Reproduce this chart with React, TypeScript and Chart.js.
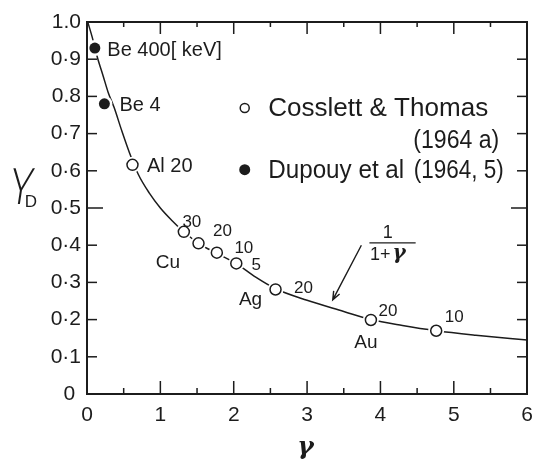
import React, { useEffect, useRef } from "react";
import { Chart, registerables } from "chart.js";

Chart.register(...registerables);

const INK = "#1c1c1c";
const SANS = "'Liberation Sans', Arial, sans-serif";

// Theoretical yield curve 1/(1+γ)
const curveGamma = [0.01, 0.07, 0.14, 0.22, 0.29, 0.37, 0.47, 0.58, 0.7, 0.85, 1.0, 1.15, 1.32, 1.52, 1.77, 2.04, 2.3, 2.57, 3.0, 3.5, 3.87, 4.3, 4.76, 5.3, 6.0];
const curveYield = [1.0, 0.96, 0.906, 0.855, 0.81, 0.77, 0.71, 0.648, 0.59, 0.54, 0.5, 0.468, 0.436, 0.405, 0.378, 0.35, 0.314, 0.283, 0.252, 0.222, 0.2, 0.184, 0.17, 0.158, 0.145];

// Cosslett & Thomas (1964a) — open circles, energy in keV
const ctGamma = [0.62, 1.32, 1.52, 1.77, 2.035, 2.57, 3.87, 4.76];
const ctYield = [0.616, 0.436, 0.405, 0.38, 0.351, 0.281, 0.199, 0.17];
const ctLabels = ["Al 20", "30", "20", "10", "5", "20", "20", "10"];

// Dupouy et al (1964, 5) — filled circles
const dpGamma = [0.107, 0.237];
const dpYield = [0.93, 0.78];
const dpLabels = ["Be 400[ keV]", "Be 4"];

// Element names placed beside their groups of points
const elementNames = ["Cu", "Ag", "Au"];
const elementAnchor = [1, 5, 6];

const xTickLabels = ["0", "1", "2", "3", "4", "5", "6"];
const yTickLabels = ["0 ", "0·1", "0·2", "0·3", "0·4", "0·5", "0·6", "0·7", "0.8", "0·9", "1.0"];

const legendEntries = ["Cosslett & Thomas", "Dupouy et al"];
const legendYears = ["(1964 a)", "(1964, 5)"];

const pts = (xs: number[], ys: number[]) => xs.map((x, i) => ({ x, y: ys[i] }));

// draws text squeezed horizontally so that it spans the given width
function fitText(ctx: CanvasRenderingContext2D, text: string, x: number, y: number, width: number, align: "left" | "right") {
  const w = ctx.measureText(text).width;
  const k = Math.min(1.1, width / w);
  ctx.save();
  ctx.translate(x, y);
  ctx.scale(k, 1);
  ctx.textAlign = align;
  ctx.fillText(text, 0, 0);
  ctx.restore();
}

// frame and inward tick marks, drawn as thin filled bars
const frame = {
  id: "frame",
  afterDraw(chart: any) {
    const { ctx, scales } = chart;
    const X = (v: number) => scales.x.getPixelForValue(v);
    const Y = (v: number) => scales.y.getPixelForValue(v);
    const L = Math.round(X(0)), R = Math.round(X(6)), T = Math.round(Y(1)), B = Math.round(Y(0));
    ctx.save();
    ctx.fillStyle = INK;
    const w = 2;
    ctx.fillRect(L - 1, T - 1, R - L + w, w);
    ctx.fillRect(L - 1, B - 1, R - L + w, w);
    ctx.fillRect(L - 1, T - 1, w, B - T + w);
    ctx.fillRect(R - 1, T - 1, w, B - T + w);
    const tw = 1.5;
    for (let k = 1; k <= 11; k++) {
      const px = X(k * 0.5) - tw / 2;
      const major = k % 2 === 0;
      const lb = major ? 13 : 6;
      const lt = major ? 12 : 5;
      ctx.fillRect(px, B - lb, tw, lb);
      ctx.fillRect(px, T, tw, lt);
    }
    for (let k = 1; k <= 9; k++) {
      const py = Y(k / 10) - tw / 2;
      const len = k === 5 ? 16 : 10;
      ctx.fillRect(L, py, len, tw);
      ctx.fillRect(R - len, py, len, tw);
    }
    ctx.restore();
  },
};

const overlay = {
  id: "overlay",
  afterDraw(chart: any) {
    const { ctx, scales } = chart;
    const X = (v: number) => scales.x.getPixelForValue(v);
    const Y = (v: number) => scales.y.getPixelForValue(v);
    const B = Y(0);
    ctx.save();
    ctx.strokeStyle = INK;
    ctx.fillStyle = INK;

    // point annotations
    ctx.textBaseline = "middle";
    const ctOffsets = [
      [14.5, 1.5, "left"], [8, -9, "center"], [24, -12, "center"], [27, -4, "center"],
      [20, 2, "center"], [28, -1, "center"], [17, -9, "center"], [18, -13, "center"],
    ] as const;
    ctLabels.forEach((t, i) => {
      const [dx, dy, al] = ctOffsets[i];
      ctx.font = `${i === 0 ? 20 : 17}px ${SANS}`;
      ctx.textAlign = al;
      ctx.fillText(t, X(ctGamma[i]) + dx, Y(ctYield[i]) + dy);
    });
    const elOffsets = [[-16, 31], [-25, 10], [-5, 23]];
    ctx.font = `19px ${SANS}`;
    ctx.textAlign = "center";
    elementNames.forEach((t, i) => {
      const j = elementAnchor[i];
      ctx.fillText(t, X(ctGamma[j]) + elOffsets[i][0], Y(ctYield[j]) + elOffsets[i][1]);
    });
    const dpOffsets = [[12.5, 2], [15, 2]];
    ctx.textAlign = "left";
    ctx.font = `20px ${SANS}`;
    dpLabels.forEach((t, i) => {
      ctx.fillText(t, X(dpGamma[i]) + dpOffsets[i][0], Y(dpYield[i]) + dpOffsets[i][1]);
    });

    // legend
    const lx = X(2.15);
    ctx.lineWidth = 1.5;
    ctx.beginPath();
    ctx.arc(lx, Y(0.769), 4.5, 0, Math.PI * 2);
    ctx.stroke();
    ctx.beginPath();
    ctx.arc(lx, Y(0.603), 5.5, 0, Math.PI * 2);
    ctx.fill();
    ctx.font = `26px ${SANS}`;
    fitText(ctx, legendEntries[0], X(2.47), Y(0.769) + 1, 220, "left");
    fitText(ctx, legendEntries[1], X(2.47), Y(0.603) + 1, 136, "left");
    fitText(ctx, legendYears[0], X(5.62), Y(0.68), 86, "right");
    fitText(ctx, legendYears[1], X(5.68), Y(0.603) + 1, 90, "right");

    // 1/(1+γ) with arrow to the curve
    const fx = X(4.1);
    ctx.textAlign = "center";
    ctx.font = `18px ${SANS}`;
    ctx.fillText("1", fx, Y(0.433));
    ctx.lineWidth = 1.3;
    ctx.beginPath();
    ctx.moveTo(X(3.85), Y(0.406));
    ctx.lineTo(X(4.48), Y(0.406));
    ctx.stroke();
    const denL = "1+";
    const denR = "γ";
    const fL = `18px ${SANS}`;
    const fR = `italic bold 20px 'DejaVu Serif', serif`;
    ctx.font = fL;
    const wL = ctx.measureText(denL).width;
    ctx.font = fR;
    const wR = ctx.measureText(denR).width;
    const startX = fx - (wL + wR) / 2 - 1;
    ctx.textAlign = "left";
    ctx.font = fL;
    ctx.fillText(denL, startX, Y(0.373));
    ctx.font = fR;
    ctx.fillText(denR, startX + wL + 2, Y(0.373) - 1);

    const ax0 = X(3.74), ay0 = Y(0.4), ax1 = X(3.35), ay1 = Y(0.253);
    ctx.lineWidth = 1.4;
    ctx.beginPath();
    ctx.moveTo(ax0, ay0);
    ctx.lineTo(ax1, ay1);
    const ang = Math.atan2(ay1 - ay0, ax1 - ax0);
    const hl = 9;
    ctx.moveTo(ax1 - hl * Math.cos(ang - 0.38), ay1 - hl * Math.sin(ang - 0.38));
    ctx.lineTo(ax1, ay1);
    ctx.lineTo(ax1 - hl * Math.cos(ang + 0.38), ay1 - hl * Math.sin(ang + 0.38));
    ctx.stroke();

    // axis titles
    ctx.textAlign = "center";
    ctx.font = `italic bold 25px 'DejaVu Serif', serif`;
    ctx.fillText("γ", X(2.98), B + 53);

    ctx.save();
    ctx.translate(21, 190);
    ctx.transform(0.82, 0, -0.15, 1, 0, 0);
    ctx.font = `300 50px 'Open Sans', ${SANS}`;
    ctx.fillText("Y", 0, 0);
    ctx.restore();
    ctx.font = `17px ${SANS}`;
    ctx.fillText("D", 31, 202);

    ctx.restore();
  },
};

export default function App() {
  const ref = useRef<HTMLCanvasElement>(null);

  useEffect(() => {
    const ctPoints = pts(ctGamma, ctYield);
    const dpPoints = pts(dpGamma, dpYield);
    const chart = new Chart(ref.current as HTMLCanvasElement, {
      type: "scatter",
      data: {
        datasets: [
          {
            label: "Dupouy et al",
            data: dpPoints,
            pointRadius: 5.5,
            pointBackgroundColor: INK,
            pointBorderWidth: 0,
            order: 0,
          },
          {
            label: "Cosslett & Thomas",
            data: ctPoints,
            pointRadius: 5.5,
            pointBackgroundColor: "#ffffff",
            pointBorderColor: INK,
            pointBorderWidth: 1.5,
            order: 1,
          },
          {
            label: "gap",
            data: [...dpPoints, ...ctPoints],
            pointRadius: 8,
            pointBackgroundColor: "#ffffff",
            pointBorderWidth: 0,
            order: 2,
          },
          {
            label: "1/(1+γ)",
            data: pts(curveGamma, curveYield),
            showLine: true,
            cubicInterpolationMode: "monotone",
            borderColor: INK,
            borderWidth: 1.5,
            pointRadius: 0,
            order: 3,
          },
        ],
      },
      options: {
        animation: false,
        responsive: false,
        devicePixelRatio: 1,
        events: [],
        layout: { padding: { top: 22, right: 6, left: 0, bottom: 0 } },
        plugins: { legend: { display: false }, tooltip: { enabled: false } },
        scales: {
          x: {
            type: "linear",
            min: 0,
            max: 6,
            afterFit: (s: any) => {
              s.height = 70;
            },
            grid: { display: false, drawTicks: false },
            border: { display: false },
            ticks: {
              stepSize: 1,
              padding: 9,
              color: INK,
              font: { family: SANS, size: 21 },
              callback: (v: any) => xTickLabels[Math.round(Number(v))],
            },
          },
          y: {
            type: "linear",
            min: 0,
            max: 1,
            afterFit: (s: any) => {
              s.width = 87;
            },
            grid: { display: false, drawTicks: false },
            border: { display: false },
            ticks: {
              stepSize: 0.1,
              padding: 6,
              color: INK,
              font: { family: SANS, size: 21 },
              callback: (v: any) => yTickLabels[Math.round(Number(v) * 10)],
            },
          },
        },
      },
      plugins: [overlay, frame],
    });
    return () => chart.destroy();
  }, []);

  return (
    <div style={{ position: "absolute", left: 0, top: 0, width: 542, height: 464, background: "#fff" }}>
      <canvas ref={ref} width={542} height={464} />
    </div>
  );
}
